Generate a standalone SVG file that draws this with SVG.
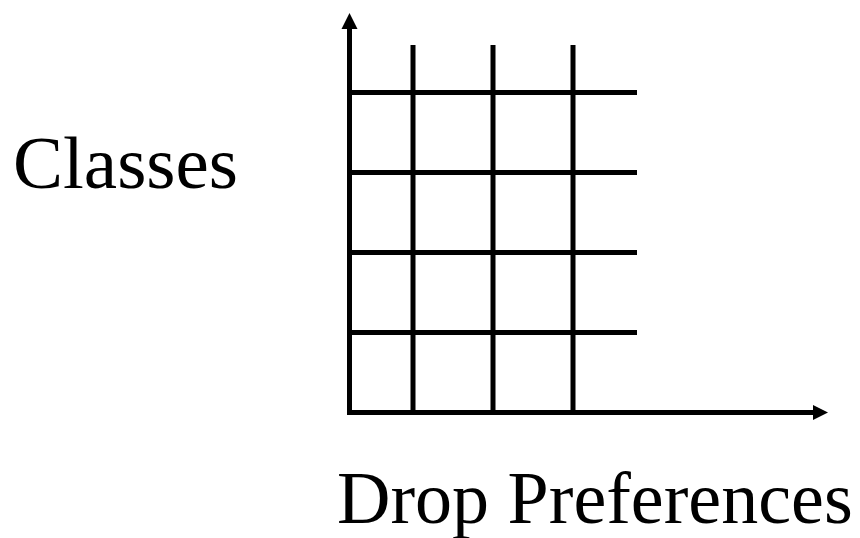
<svg xmlns="http://www.w3.org/2000/svg" width="860" height="538" viewBox="0 0 860 538">
<style>
.ln{stroke:#000;stroke-width:5;fill:none}
.ah{fill:#000}
.lbl{font-family:'Liberation Serif','Times New Roman','DejaVu Serif',serif;fill:#000}
</style>
<rect width="860" height="538" fill="#fff"/>
<g id="grid">
<line class="ln" x1="413" y1="45" x2="413" y2="412.5"/>
<line class="ln" x1="493" y1="45" x2="493" y2="412.5"/>
<line class="ln" x1="573" y1="45" x2="573" y2="412.5"/>
<line class="ln" x1="349" y1="92.5" x2="637" y2="92.5"/>
<line class="ln" x1="349" y1="172.5" x2="637" y2="172.5"/>
<line class="ln" x1="349" y1="252.5" x2="637" y2="252.5"/>
<line class="ln" x1="349" y1="332.5" x2="637" y2="332.5"/>
</g>
<g id="axes">
<line class="ln" x1="349.5" y1="415" x2="349.5" y2="28"/>
<polygon class="ah" points="341.5,29 349.5,13 357.5,29"/>
<line class="ln" x1="347" y1="412.5" x2="814" y2="412.5"/>
<polygon class="ah" points="813,405 828,412.5 813,420"/>
</g>
<g id="labels">
<text class="lbl" font-family="Liberation Serif, serif" x="13" y="188" font-size="75">Classes</text>
<text class="lbl" font-family="Liberation Serif, serif" x="337" y="523" font-size="74">Drop Preferences</text>
</g>
</svg>
